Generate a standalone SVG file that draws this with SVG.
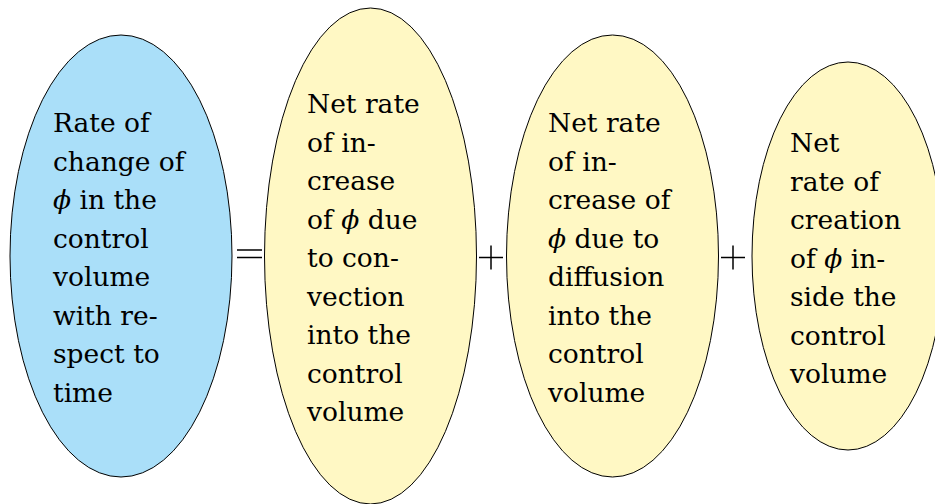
<svg xmlns="http://www.w3.org/2000/svg" width="935" height="504" viewBox="0 0 935 504">
<defs>
<style>
.blue{fill:#aadff9;stroke:#000;stroke-width:1}
.yel{fill:#fff8c4;stroke:#000;stroke-width:1}
.op{stroke:#000;stroke-width:1.5}
.t{font-family:"DejaVu Serif","Liberation Serif","Noto Serif",serif;font-size:26.5px;fill:#000}
.phi{font-style:italic;font-weight:normal}
</style>
</defs>
<rect width="935" height="504" fill="#fff"/>
<g id="node-rate">
<ellipse class="blue" cx="121" cy="256" rx="111" ry="221"/>
<text class="t">
<tspan x="53" y="132">Rate of</tspan>
<tspan x="53" y="170.5">change of</tspan>
<tspan x="53" y="209"><tspan class="phi">ϕ</tspan> in the</tspan>
<tspan x="53" y="247.5">control</tspan>
<tspan x="53" y="286">volume</tspan>
<tspan x="53" y="324.5">with re-</tspan>
<tspan x="53" y="363">spect to</tspan>
<tspan x="53" y="401.5">time</tspan>
</text>
</g>
<g id="node-convection">
<ellipse class="yel" cx="370.5" cy="256" rx="106" ry="248"/>
<text class="t">
<tspan x="307" y="113">Net rate</tspan>
<tspan x="307" y="151.5">of in-</tspan>
<tspan x="307" y="190">crease</tspan>
<tspan x="307" y="228.5">of <tspan class="phi">ϕ</tspan> due</tspan>
<tspan x="307" y="267">to con-</tspan>
<tspan x="307" y="305.5">vection</tspan>
<tspan x="307" y="344">into the</tspan>
<tspan x="307" y="382.5">control</tspan>
<tspan x="307" y="421">volume</tspan>
</text>
</g>
<g id="node-diffusion">
<ellipse class="yel" cx="612.5" cy="256" rx="106" ry="221"/>
<text class="t">
<tspan x="548" y="132">Net rate</tspan>
<tspan x="548" y="170.5">of in-</tspan>
<tspan x="548" y="209">crease of</tspan>
<tspan x="548" y="247.5"><tspan class="phi">ϕ</tspan> due to</tspan>
<tspan x="548" y="286">diffusion</tspan>
<tspan x="548" y="324.5">into the</tspan>
<tspan x="548" y="363">control</tspan>
<tspan x="548" y="401.5">volume</tspan>
</text>
</g>
<g id="node-creation">
<ellipse class="yel" cx="848" cy="256" rx="96" ry="194"/>
<text class="t">
<tspan x="790" y="152">Net</tspan>
<tspan x="790" y="190.5">rate of</tspan>
<tspan x="790" y="229">creation</tspan>
<tspan x="790" y="267.5">of <tspan class="phi">ϕ</tspan> in-</tspan>
<tspan x="790" y="306">side the</tspan>
<tspan x="790" y="344.5">control</tspan>
<tspan x="790" y="383">volume</tspan>
</text>
</g>
<g id="connectors">
<line class="op" x1="237" y1="250" x2="262" y2="250"/>
<line class="op" x1="237" y1="257.5" x2="262" y2="257.5"/>
<line class="op" x1="479" y1="257.5" x2="503" y2="257.5"/>
<line class="op" x1="491" y1="245.5" x2="491" y2="269.5"/>
<line class="op" x1="721" y1="257.5" x2="745" y2="257.5"/>
<line class="op" x1="733" y1="245.5" x2="733" y2="269.5"/>
</g>
</svg>
